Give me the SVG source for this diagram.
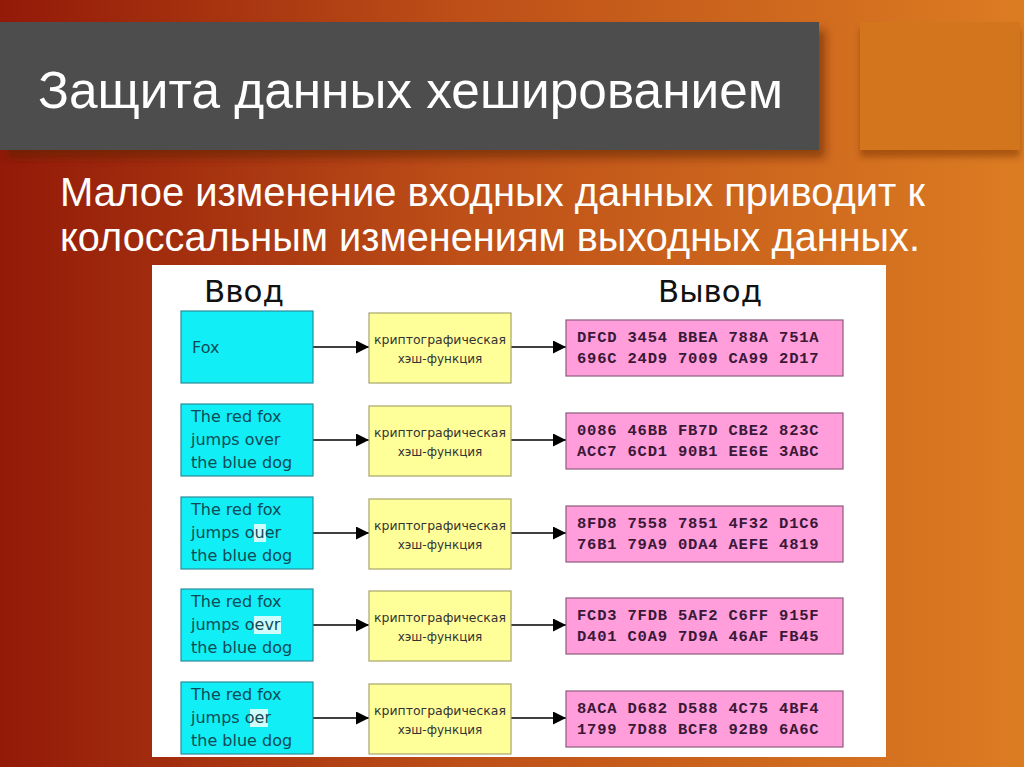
<svg xmlns="http://www.w3.org/2000/svg" width="1024" height="767" viewBox="0 0 1024 767">
<defs>
<linearGradient id="bg" x1="0" y1="0" x2="1" y2="0">
<stop offset="0" stop-color="#931a08"/>
<stop offset="0.45" stop-color="#bd4f18"/>
<stop offset="1" stop-color="#dc7c22"/>
</linearGradient>
<filter id="sh" x="-10%" y="-10%" width="130%" height="140%">
<feDropShadow dx="6" dy="8" stdDeviation="5" flood-color="#5a1a00" flood-opacity="0.55"/>
</filter>
<filter id="sh2" x="-10%" y="-10%" width="120%" height="140%">
<feDropShadow dx="0" dy="7" stdDeviation="3" flood-color="#7a3000" flood-opacity="0.5"/>
</filter>
<marker id="ah" viewBox="0 0 10 10" refX="10" refY="5" markerWidth="13" markerHeight="13" markerUnits="userSpaceOnUse" orient="auto">
<path d="M0,0 L10,5 L0,10 Z" fill="#000"/>
</marker>
<style>
.cy{fill:#12eef5;stroke:#2a8d9a;stroke-width:1.2}
.ye{fill:#ffff9a;stroke:#a9a56a;stroke-width:1.2}
.pk{fill:#ff9edb;stroke:#8c5a7c;stroke-width:1.2}
.ct{font-family:"DejaVu Sans",sans-serif;font-size:16px;fill:#0f4b56}
.yt{font-family:"DejaVu Sans",sans-serif;font-size:12px;fill:#333;text-anchor:middle}
.pt{font-family:"Liberation Mono",monospace;font-weight:bold;font-size:15.5px;letter-spacing:0.8px;fill:#3a1838}
.hd{font-family:"DejaVu Sans",sans-serif;font-size:30px;fill:#111;text-anchor:middle}
.hl{fill:#cffcfc}
.cn{stroke:#000;stroke-width:1.6;marker-end:url(#ah)}
.tt{font-family:"Liberation Sans",Arial,sans-serif;fill:#fff}
</style>
</defs>
<rect width="1024" height="767" fill="url(#bg)"/>
<rect x="860" y="22" width="160" height="128" fill="#d3741f" filter="url(#sh2)"/>
<rect x="0" y="22" width="819" height="128" fill="#4d4d4d" filter="url(#sh)"/>
<text class="tt" x="38" y="108" font-size="52" textLength="745" lengthAdjust="spacingAndGlyphs">Защита данных хешированием</text>
<text class="tt" x="60" y="206" font-size="41" textLength="865" lengthAdjust="spacingAndGlyphs">Малое изменение входных данных приводит к</text>
<text class="tt" x="60" y="251" font-size="41" textLength="860" lengthAdjust="spacingAndGlyphs">колоссальным изменениям выходных данных.</text>
<rect x="152" y="265" width="734" height="492" fill="#fff"/>
<text class="hd" x="244" y="302" textLength="80" lengthAdjust="spacingAndGlyphs">Ввод</text>
<text class="hd" x="710" y="302" textLength="104" lengthAdjust="spacingAndGlyphs">Вывод</text>
<g id="connectors">
<line class="cn" x1="313" y1="347" x2="369" y2="347"/>
<line class="cn" x1="511" y1="347" x2="566" y2="347"/>
<line class="cn" x1="313" y1="440" x2="369" y2="440"/>
<line class="cn" x1="511" y1="440" x2="566" y2="440"/>
<line class="cn" x1="313" y1="533" x2="369" y2="533"/>
<line class="cn" x1="511" y1="533" x2="566" y2="533"/>
<line class="cn" x1="313" y1="625" x2="369" y2="625"/>
<line class="cn" x1="511" y1="625" x2="566" y2="625"/>
<line class="cn" x1="313" y1="718" x2="369" y2="718"/>
<line class="cn" x1="511" y1="718" x2="566" y2="718"/>
</g>
<g id="in1"><rect class="cy" x="181" y="311" width="132" height="72"/><text class="ct" x="192" y="353" font-size="15">Fox</text></g>
<g id="in2"><rect class="cy" x="181" y="404" width="132" height="72"/>
<text class="ct" x="191" y="422">The red fox</text><text class="ct" x="191" y="445">jumps over</text><text class="ct" x="191" y="468">the blue dog</text></g>
<g id="in3"><rect class="cy" x="181" y="497" width="132" height="72"/><rect class="hl" x="254" y="524" width="12" height="18"/>
<text class="ct" x="191" y="515">The red fox</text><text class="ct" x="191" y="538">jumps ouer</text><text class="ct" x="191" y="561">the blue dog</text></g>
<g id="in4"><rect class="cy" x="181" y="589" width="132" height="72"/><rect class="hl" x="254" y="616" width="27" height="18"/>
<text class="ct" x="191" y="607">The red fox</text><text class="ct" x="191" y="630">jumps oevr</text><text class="ct" x="191" y="653">the blue dog</text></g>
<g id="in5"><rect class="cy" x="181" y="682" width="132" height="72"/><rect class="hl" x="250" y="709" width="18" height="18"/>
<text class="ct" x="191" y="700">The red fox</text><text class="ct" x="191" y="723">jumps oer</text><text class="ct" x="191" y="746">the blue dog</text></g>
<g id="h1"><rect class="ye" x="369" y="313" width="142" height="70"/><text class="yt" x="440" y="344" textLength="132" lengthAdjust="spacingAndGlyphs">криптографическая</text><text class="yt" x="440" y="363">хэш-функция</text></g>
<g id="h2"><rect class="ye" x="369" y="406" width="142" height="70"/><text class="yt" x="440" y="437" textLength="132" lengthAdjust="spacingAndGlyphs">криптографическая</text><text class="yt" x="440" y="456">хэш-функция</text></g>
<g id="h3"><rect class="ye" x="369" y="499" width="142" height="70"/><text class="yt" x="440" y="530" textLength="132" lengthAdjust="spacingAndGlyphs">криптографическая</text><text class="yt" x="440" y="549">хэш-функция</text></g>
<g id="h4"><rect class="ye" x="369" y="591" width="142" height="70"/><text class="yt" x="440" y="622" textLength="132" lengthAdjust="spacingAndGlyphs">криптографическая</text><text class="yt" x="440" y="641">хэш-функция</text></g>
<g id="h5"><rect class="ye" x="369" y="684" width="142" height="70"/><text class="yt" x="440" y="715" textLength="132" lengthAdjust="spacingAndGlyphs">криптографическая</text><text class="yt" x="440" y="734">хэш-функция</text></g>
<g id="o1"><rect class="pk" x="566" y="320" width="277" height="56"/><text class="pt" x="577" y="342">DFCD 3454 BBEA 788A 751A</text><text class="pt" x="577" y="363">696C 24D9 7009 CA99 2D17</text></g>
<g id="o2"><rect class="pk" x="566" y="413" width="277" height="56"/><text class="pt" x="577" y="435">0086 46BB FB7D CBE2 823C</text><text class="pt" x="577" y="456">ACC7 6CD1 90B1 EE6E 3ABC</text></g>
<g id="o3"><rect class="pk" x="566" y="506" width="277" height="56"/><text class="pt" x="577" y="528">8FD8 7558 7851 4F32 D1C6</text><text class="pt" x="577" y="549">76B1 79A9 0DA4 AEFE 4819</text></g>
<g id="o4"><rect class="pk" x="566" y="598" width="277" height="56"/><text class="pt" x="577" y="620">FCD3 7FDB 5AF2 C6FF 915F</text><text class="pt" x="577" y="641">D401 C0A9 7D9A 46AF FB45</text></g>
<g id="o5"><rect class="pk" x="566" y="691" width="277" height="56"/><text class="pt" x="577" y="713">8ACA D682 D588 4C75 4BF4</text><text class="pt" x="577" y="734">1799 7D88 BCF8 92B9 6A6C</text></g>
</svg>
